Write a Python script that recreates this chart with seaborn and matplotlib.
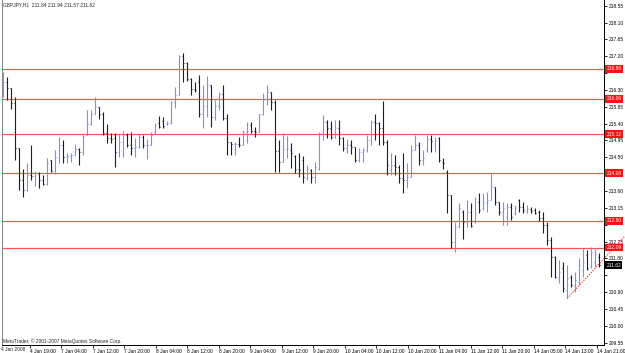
import matplotlib
matplotlib.use("Agg")
import matplotlib.pyplot as plt
import numpy as np
import pandas as pd
import seaborn as sns
from matplotlib import font_manager

# ---------------- data ----------------
opens = [216.25, 216.52, 216.34, 215.94, 214.74, 213.89, 213.63, 214.03, 214.01, 214.07,
         213.89, 213.80, 214.43, 214.13, 214.47, 214.83, 214.52, 214.54, 214.56, 214.72,
         214.65, 215.10, 215.38, 215.67, 215.85, 215.67, 215.14, 215.01, 215.01, 214.65,
         214.90, 215.10, 214.83, 214.74, 214.78, 215.05, 214.83, 214.84, 215.17, 215.43,
         215.47, 215.40, 215.43, 215.98, 216.16, 217.21, 217.01, 216.58, 216.32, 216.52,
         215.67, 215.88, 216.43, 215.58, 215.87, 216.18, 215.54, 214.92, 214.85, 214.86,
         214.83, 215.17, 215.36, 215.20, 215.17, 215.65, 216.07, 216.25, 215.98, 214.67,
         214.38, 214.72, 214.70, 214.53, 214.19, 214.43, 213.94, 214.16, 213.98, 214.20,
         215.14, 215.45, 215.27, 215.03, 215.27, 215.01, 214.74, 214.83, 214.78, 214.43,
         214.65, 214.70, 214.96, 215.45, 215.41, 215.27, 214.92, 214.16, 214.29, 214.23,
         213.94, 213.90, 213.98, 214.70, 214.83, 214.43, 214.70, 214.98, 214.83, 215.01,
         214.38, 214.11, 213.49, 212.25, 212.66, 213.05, 212.78, 213.05, 212.78, 213.31,
         213.14, 213.27, 213.36, 213.71, 213.31, 213.05, 212.91, 213.18, 213.00, 213.36,
         213.18, 213.05, 213.11, 213.09, 213.05, 212.87, 212.69, 212.29, 211.85, 211.31,
         211.54, 210.95, 211.31, 211.09, 211.17, 211.49, 211.89, 211.60, 211.70, 211.84]
highs = [216.79, 216.65, 216.36, 216.12, 214.74, 214.19, 214.34, 214.83, 214.13, 214.11,
         214.03, 214.47, 214.43, 214.70, 215.05, 214.96, 214.61, 214.61, 214.85, 214.74,
         215.10, 215.76, 215.76, 216.12, 215.85, 215.72, 215.39, 215.14, 215.14, 215.11,
         215.20, 215.14, 215.17, 215.02, 215.11, 215.10, 214.98, 215.17, 215.43, 215.61,
         215.58, 215.47, 216.00, 216.38, 217.23, 217.28, 217.05, 216.63, 216.52, 216.70,
         216.43, 216.68, 216.43, 216.03, 216.25, 216.43, 215.67, 214.92, 214.90, 215.05,
         215.23, 215.45, 215.45, 215.32, 215.67, 216.21, 216.43, 216.25, 216.03, 214.96,
         215.14, 215.08, 214.87, 214.56, 214.61, 214.53, 214.29, 214.20, 214.38, 215.18,
         215.63, 215.50, 215.48, 215.50, 215.51, 215.05, 214.98, 214.96, 214.78, 214.74,
         214.74, 215.10, 215.50, 215.67, 215.45, 216.01, 214.96, 214.62, 214.56, 214.29,
         214.61, 214.34, 214.83, 215.10, 214.92, 214.70, 215.10, 215.10, 215.05, 215.05,
         214.47, 214.16, 213.49, 212.78, 213.27, 213.09, 213.36, 213.27, 213.45, 213.54,
         213.54, 213.58, 214.07, 213.71, 213.31, 213.31, 213.27, 213.27, 213.22, 213.40,
         213.31, 213.22, 213.18, 213.14, 213.09, 213.05, 212.78, 212.38, 211.86, 211.76,
         211.70, 211.62, 211.36, 211.44, 211.80, 212.07, 212.02, 212.11, 212.05, 211.94]
lows = [216.12, 216.03, 215.79, 214.43, 213.63, 213.45, 213.61, 213.89, 213.74, 213.69,
        213.76, 213.76, 214.11, 214.05, 214.34, 214.34, 214.34, 214.38, 214.56, 214.29,
        214.56, 215.10, 215.36, 215.67, 215.52, 215.10, 214.87, 214.87, 214.25, 214.52,
        214.52, 214.78, 214.56, 214.52, 214.74, 214.74, 214.45, 214.83, 215.11, 215.29,
        215.27, 215.36, 215.40, 215.81, 216.16, 216.52, 216.54, 216.16, 216.25, 215.58,
        215.29, 215.58, 215.32, 215.50, 215.76, 215.50, 214.56, 214.56, 214.56, 214.78,
        214.83, 214.87, 215.14, 215.05, 215.17, 215.63, 215.91, 215.76, 214.11, 214.11,
        214.38, 214.49, 214.22, 214.07, 213.98, 213.82, 213.89, 213.81, 213.81, 214.16,
        214.96, 215.01, 214.98, 215.01, 214.83, 214.68, 214.61, 214.59, 214.38, 214.38,
        214.38, 214.65, 214.83, 214.96, 214.83, 214.83, 214.03, 214.03, 214.03, 213.81,
        213.54, 213.67, 213.97, 214.70, 214.29, 214.29, 214.65, 214.65, 214.65, 214.38,
        214.20, 213.00, 212.07, 211.98, 212.60, 212.31, 212.65, 212.65, 212.74, 213.00,
        213.09, 213.05, 213.36, 213.22, 212.96, 212.69, 212.69, 212.83, 212.96, 213.05,
        213.00, 213.00, 213.00, 212.99, 212.81, 212.47, 212.16, 211.31, 211.27, 211.14,
        210.90, 210.73, 211.04, 210.91, 211.09, 211.31, 211.49, 211.54, 211.58, 211.57]
closes = [216.50, 216.34, 215.94, 214.74, 213.89, 213.63, 214.03, 214.01, 214.07, 213.89,
          213.80, 214.34, 214.13, 214.52, 214.83, 214.52, 214.54, 214.56, 214.72, 214.65,
          215.08, 215.38, 215.67, 215.85, 215.67, 215.14, 215.01, 215.00, 214.65, 214.90,
          215.10, 214.83, 214.74, 214.78, 215.05, 214.83, 214.84, 215.10, 215.36, 215.32,
          215.34, 215.43, 215.98, 216.16, 217.21, 217.01, 216.58, 216.32, 216.30, 215.67,
          215.88, 216.43, 215.58, 215.87, 216.18, 215.54, 214.92, 214.85, 214.86, 214.83,
          215.17, 215.20, 215.20, 215.17, 215.65, 216.07, 216.25, 215.98, 214.67, 214.38,
          214.72, 214.74, 214.61, 214.19, 214.15, 213.98, 214.20, 213.98, 214.25, 215.14,
          215.45, 215.27, 215.03, 215.27, 215.01, 214.74, 214.83, 214.78, 214.43, 214.65,
          214.70, 214.96, 215.45, 215.41, 215.27, 214.90, 214.29, 214.29, 214.23, 213.94,
          213.90, 213.98, 214.70, 214.83, 214.43, 214.48, 214.98, 214.94, 214.96, 214.43,
          214.34, 213.49, 212.25, 212.65, 213.14, 212.78, 213.05, 212.66, 213.00, 213.09,
          213.31, 213.36, 213.71, 213.31, 213.05, 213.14, 213.18, 212.91, 213.14, 213.18,
          213.09, 213.11, 213.07, 213.02, 212.87, 212.69, 212.29, 211.85, 211.31, 211.45,
          211.01, 211.27, 211.09, 211.22, 211.62, 211.70, 211.54, 211.97, 211.92, 211.62]

level_prices = [216.86, 216.06, 215.12, 214.08, 212.80, 212.09]
current_price = 211.62

trend_x = [141, 155.45]
trend_y = [210.73, 212.40]

y_tick_values = [209.55, 210.00, 210.45, 210.90, 211.35, 211.80, 212.25, 212.70,
                 213.15, 213.60, 214.05, 214.50, 214.95, 215.40, 215.85, 216.30,
                 216.75, 217.20, 217.65, 218.10, 218.55]
hidden_y_labels = [211.35, 212.70, 214.05, 216.75]

x_tick_labels = ["4 Jan 19:00", "7 Jan 04:00", "7 Jan 12:00", "7 Jan 20:00", "8 Jan 04:00",
                 "8 Jan 12:00", "8 Jan 20:00", "9 Jan 04:00", "9 Jan 12:00", "9 Jan 20:00",
                 "10 Jan 04:00", "10 Jan 12:00", "10 Jan 20:00", "11 Jan 04:00", "11 Jan 12:00",
                 "11 Jan 20:00", "14 Jan 05:00", "14 Jan 13:00", "14 Jan 21:00"]
first_date_label = "4 Jan 2008"
title_text = "GBPJPY,H1  211.84 211.94 211.57 211.62"
copyright_text = "MetaTrader, \u00a9 2001-2007 MetaQuotes Software Corp."

# label layout along the time axis (first label position and spacing, in bar units)
TICK0, TICK_STEP = 6.6, 7.875
x_tick_pos = TICK0 + TICK_STEP * np.arange(len(x_tick_labels))

# ---------------- style ----------------
sns.set_style("white")
avail = {f.name for f in font_manager.fontManager.ttflist}
fams = [f for f in ["Liberation Sans Narrow", "Liberation Sans", "DejaVu Sans"] if f in avail]
plt.rcParams["font.family"] = fams
FS = 3.5
UP = "#7292fa"
DN = "#1e1e1e"
LEVEL = "#ff5050"

W, H = 625, 353
fig = plt.figure(figsize=(W / 100, H / 100), dpi=100)
fig.patch.set_facecolor("white")
ax = fig.add_axes([2 / W, 8 / H, 602 / W, 345 / H])
ax.set_facecolor("white")

df = pd.DataFrame({"o": opens, "h": highs, "l": lows, "c": closes})
df["x"] = np.arange(len(df))
colors = np.where(df["c"] >= df["o"], UP, DN)

lw = 0.8
ax.vlines(df["x"], df["l"], df["h"], colors=colors, lw=lw, zorder=3)
ax.hlines(df["o"], df["x"] - 0.3, df["x"], colors=colors, lw=lw, zorder=3)
ax.hlines(df["c"], df["x"], df["x"] + 0.3, colors=colors, lw=lw, zorder=3)

for lv in level_prices:
    ax.axhline(lv, color=LEVEL, lw=0.85, zorder=2)

tdf = pd.DataFrame({"x": trend_x, "y": trend_y})
sns.lineplot(data=tdf, x="x", y="y", ax=ax, color="#ff3c3c", lw=0.8,
             linestyle=(0, (1.2, 1.2)), zorder=4)
ax.lines[-1].set_clip_on(False)

ax.set_xlim(-0.3, 150.2)
ax.set_ylim(209.487, 218.702)
ax.set_xlabel("")
ax.set_ylabel("")

# y axis on the right
ax.yaxis.tick_right()
ax.set_yticks(y_tick_values)
ax.set_yticklabels(["" if v in hidden_y_labels else f"{v:.2f}" for v in y_tick_values])
ax.tick_params(axis="y", which="both", right=True, left=False, length=2.2, width=0.6,
               pad=1.2, labelsize=FS, colors="black")

# x axis
ax.set_xticks(x_tick_pos)
ax.set_xticklabels(x_tick_labels)
for t in ax.get_xticklabels():
    t.set_horizontalalignment("left")
ax.tick_params(axis="x", which="both", bottom=True, length=2.0, width=0.6, pad=0.8,
               labelsize=FS, colors="black")

ax.spines["top"].set_visible(False)
ax.spines["left"].set_color("#8a8a8a")
ax.spines["left"].set_linewidth(0.8)
ax.spines["right"].set_color("black")
ax.spines["right"].set_linewidth(0.7)
ax.spines["bottom"].set_color("black")
ax.spines["bottom"].set_linewidth(0.7)

# price labels on the scale
ytr = ax.get_yaxis_transform()
for lv in level_prices:
    ax.text(1.004, lv, f"{lv:.2f}", transform=ytr, ha="left", va="center", fontsize=FS,
            color="white", clip_on=False, zorder=10,
            bbox=dict(boxstyle="square,pad=0.25", fc="#ff1010", ec="none"))
ax.text(1.004, current_price, f"{current_price:.2f}", transform=ytr, ha="left", va="center",
        fontsize=FS, color="white", clip_on=False, zorder=10,
        bbox=dict(boxstyle="square,pad=0.25", fc="black", ec="none"))

fig.text(0.6 / W, 1 - 349.5 / H, first_date_label, ha="left", va="center", fontsize=FS)
fig.text(3 / W, 1 - 5 / H, title_text, ha="left", va="center", fontsize=FS)
fig.text(3 / W, 1 - 341 / H, copyright_text, ha="left", va="center", fontsize=FS)

fig.savefig("out.png", dpi=100, facecolor="white")
